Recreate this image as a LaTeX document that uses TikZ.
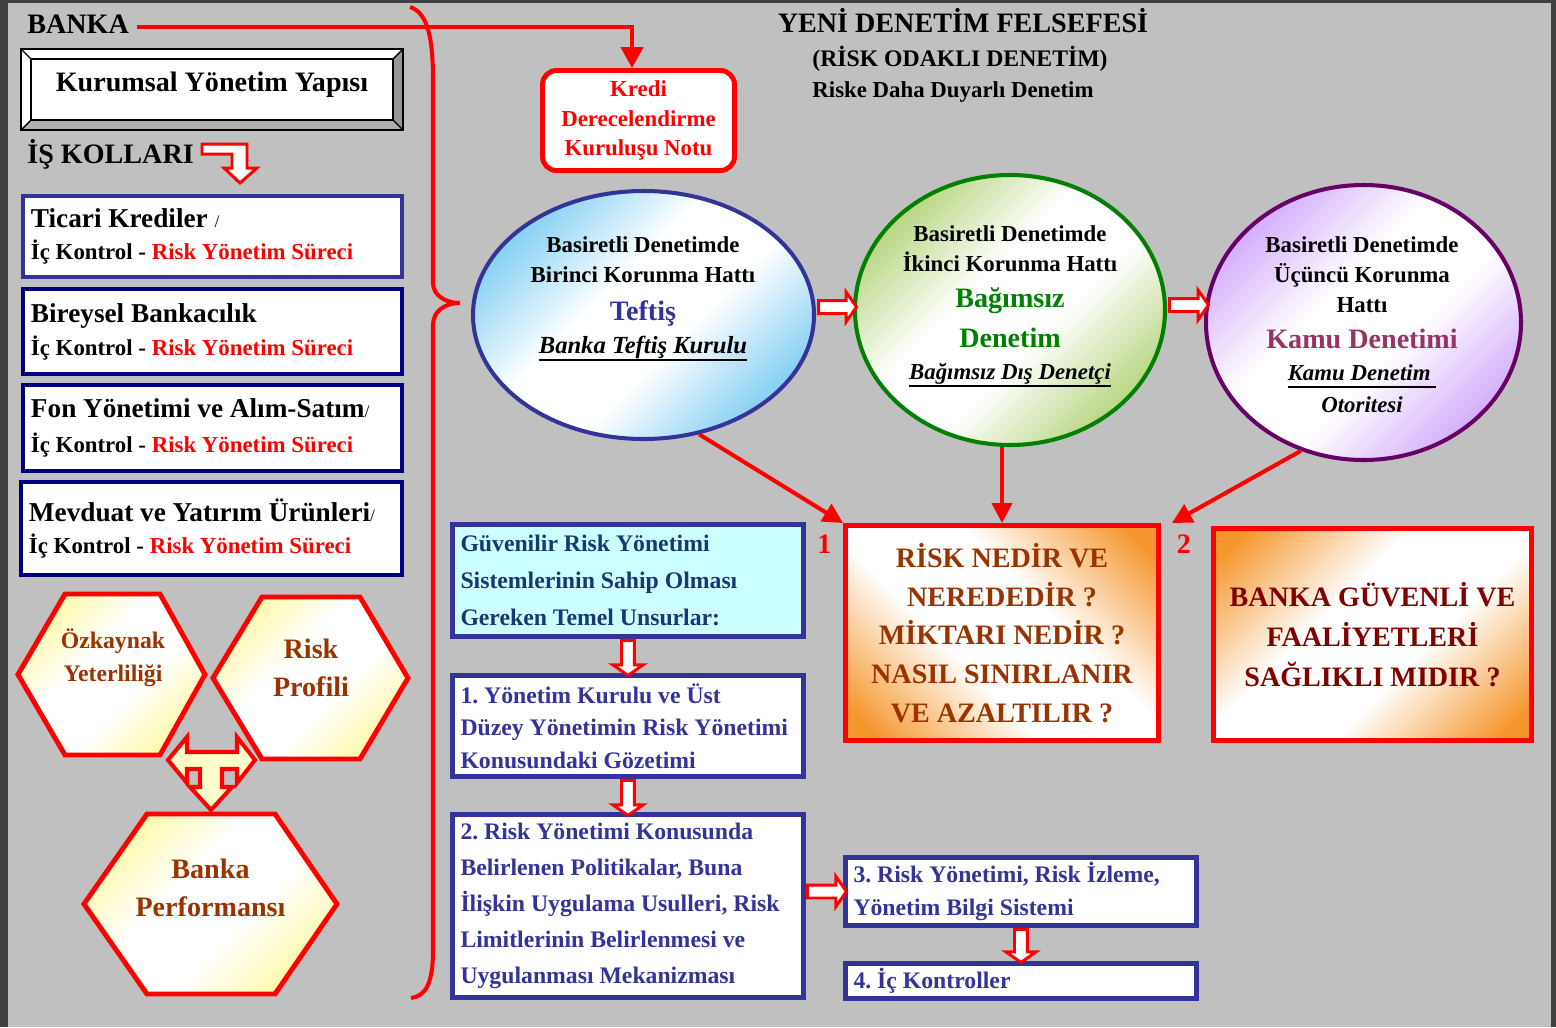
\documentclass[tikz,border=0pt]{standalone}
\usepackage{fontspec}
\setmainfont{Liberation Serif}
\usetikzlibrary{arrows.meta,shapes.geometric,shapes.arrows,calc}

\definecolor{cBg}{RGB}{192,192,192}
\definecolor{cFrame}{RGB}{64,64,64}
\definecolor{boxblue}{RGB}{51,51,153}
\definecolor{navyblue}{RGB}{0,0,128}
\definecolor{hexbrown}{RGB}{153,51,0}
\definecolor{dred}{RGB}{128,0,0}
\definecolor{dgreen}{RGB}{0,128,0}
\definecolor{purp}{RGB}{102,0,102}
\definecolor{kamucol}{RGB}{153,51,102}
\definecolor{sky}{RGB}{115,200,242}
\definecolor{lgreen}{RGB}{172,208,110}
\definecolor{lpurp}{RGB}{205,160,252}
\definecolor{orng}{RGB}{245,150,45}
\definecolor{hexy}{RGB}{255,248,160}
\definecolor{tfill}{RGB}{255,255,204}
\definecolor{cyanbox}{RGB}{204,255,255}
\definecolor{gvtext}{RGB}{25,55,115}
\definecolor{bevR}{RGB}{150,150,150}
\definecolor{bevB}{RGB}{175,175,175}

\pgfdeclareverticalshading{shSky}{100bp}{color(0bp)=(sky); color(22bp)=(sky); color(43bp)=(white); color(57bp)=(white); color(78bp)=(sky); color(100bp)=(sky)}
\pgfdeclareverticalshading{shGreen}{100bp}{color(0bp)=(lgreen); color(22bp)=(lgreen); color(43bp)=(white); color(57bp)=(white); color(78bp)=(lgreen); color(100bp)=(lgreen)}
\pgfdeclareverticalshading{shPurp}{100bp}{color(0bp)=(lpurp); color(22bp)=(lpurp); color(43bp)=(white); color(57bp)=(white); color(78bp)=(lpurp); color(100bp)=(lpurp)}
\pgfdeclareverticalshading{shOrng}{100bp}{color(0bp)=(orng); color(19bp)=(orng); color(41bp)=(white); color(59bp)=(white); color(81bp)=(orng); color(100bp)=(orng)}
\pgfdeclareverticalshading{shHex}{100bp}{color(0bp)=(hexy); color(22bp)=(hexy); color(42bp)=(white); color(58bp)=(white); color(78bp)=(hexy); color(100bp)=(hexy)}

\newcommand{\fsz}[2]{\fontsize{#1}{#2}\selectfont}
\newcommand{\tsp}{\spaceskip=0pt\xspaceskip=0pt\frenchspacing}
\newsavebox\undlbox
\newcommand{\undl}[1]{\sbox\undlbox{#1}\rlap{\rule[-4.7pt]{\wd\undlbox}{1.5pt}}\usebox\undlbox}

\begin{document}
\begin{tikzpicture}[scale=0.2]
	\tikzstyle{every node}+=[inner sep=0pt, font=\bfseries]
	\tikzstyle{redln}=[red, line width=2.3pt]
	\tikzstyle{redarr}=[redln, -{Triangle[length=0.4cm, width=0.4cm]}]
	\tikzstyle{bizbox}=[draw=navyblue, fill=white, line width=2.3pt, minimum width=7.58cm, text width=7.26cm, inner xsep=0.16cm, align=flush left]
	\tikzstyle{bluebox}=[draw=boxblue, fill=white, line width=2.8pt, minimum width=7.02cm, text width=6.7cm, inner xsep=0.16cm, align=flush left, text=boxblue, font=\bfseries\fsz{13.5}{18.5}\tsp]
	\tikzstyle{riskbox}=[draw=red, line width=2.8pt, align=center, shade, shading=shOrng]
	\tikzstyle{hexa}=[draw=red, line width=2.8pt, line join=miter, shade, shading=shHex, shading angle=45]
	\tikzstyle{hexlbl}=[align=center, text=hexbrown]
	\tikzstyle{oval}=[ellipse, line width=2.3pt, shade, shading angle=45]
	\tikzstyle{ovallbl}=[align=center, anchor=north, font=\bfseries\fsz{13}{17}]
	\tikzstyle{hollow}=[single arrow, draw=red, fill=white, line width=1.7pt, inner xsep=0pt, inner ysep=0.1cm, single arrow head extend=0.17cm, single arrow tip angle=110, anchor=tail]
	\tikzstyle{blockarr}=[draw=red, line join=miter]

	\useasboundingbox (0,0) rectangle (155.6,-102.7);
	\fill [cFrame] (0,0) rectangle (155.6,-102.7);
	\fill [cBg] (0.8,-0.25) rectangle (155.1,-102.7);

	\fill [white] (2.1,-4.9) rectangle (40.3,-13.0);
	\fill [bevR] (40.3,-4.9) -- (40.3,-13.0) -- (39.3,-12.0) -- (39.3,-5.9) -- cycle;
	\fill [bevB] (2.1,-13.0) -- (40.3,-13.0) -- (39.3,-12.0) -- (3.1,-12.0) -- cycle;
	\draw [black, line width=1.1pt] (2.1,-4.9) rectangle (40.3,-13.0);
	\draw [black, line width=1.1pt] (3.1,-5.9) rectangle (39.3,-12.0);
	\draw [black, line width=0.8pt] (2.1,-4.9) -- (3.1,-5.9) (40.3,-4.9) -- (39.3,-5.9) (2.1,-13.0) -- (3.1,-12.0) (40.3,-13.0) -- (39.3,-12.0);

	\node [anchor=base west, font=\bfseries\fsz{16}{19}] (banka) at (2.7,-3.3) {BANKA};
	\node [font=\bfseries\fsz{16}{19}] (kurumsal) at (21.2,-8.5) {Kurumsal Yönetim Yapısı};
	\node [anchor=base west, font=\bfseries\fsz{16}{19}] (iskol) at (2.7,-16.3) {İŞ KOLLARI};
	\draw [blockarr, line width=1.7pt, fill=white] (20.2,-14.4) -- (24.7,-14.4) -- (24.7,-16.8) -- (25.7,-16.8) -- (24.0,-18.3) -- (22.4,-16.8) -- (23.2,-16.8) -- (23.2,-15.4) -- (20.2,-15.4) -- cycle;

	\node [bizbox, draw=boxblue, minimum height=1.62cm, font=\bfseries\fsz{13}{18.1}\tsp] (ticari) at (21.25,-23.65) {\fsz{15.5}{18.1}Ticari Krediler {\mdseries\fsz{10}{12}/}\\\fsz{13}{18.1}İç Kontrol - \textcolor{red}{Risk Yönetim Süreci}};
	\node [bizbox, minimum height=1.7cm, font=\bfseries\fsz{13}{18.7}\tsp] (bireysel) at (21.25,-33.15) {\fsz{15.5}{18.7}Bireysel Bankacılık\\\fsz{13}{18.7}İç Kontrol - \textcolor{red}{Risk Yönetim Süreci}};
	\node [bizbox, minimum height=1.72cm, font=\bfseries\fsz{13}{19.8}\tsp] (fon) at (21.25,-42.8) {\fsz{15.5}{19.8}Fon Yönetimi ve Alım-Satım{\mdseries\fsz{10}{12}/}\\\fsz{13}{19.8}İç Kontrol - \textcolor{red}{Risk Yönetim Süreci}};
	\node [bizbox, minimum height=1.86cm, minimum width=7.62cm, text width=7.3cm, font=\bfseries\fsz{13}{18.1}\tsp] (mevduat) at (21.15,-52.85) {\fsz{15.5}{18.1}Mevduat ve Yatırım Ürünleri{\mdseries\fsz{10}{12}/}\\\fsz{13}{18.1}İç Kontrol - \textcolor{red}{Risk Yönetim Süreci}};

	\draw [hexa] (1.8,-67.45) -- (6.5,-59.4) -- (16.0,-59.4) -- (20.5,-67.45) -- (16.0,-75.5) -- (6.5,-75.5) -- cycle;
	\draw [hexa] (21.3,-67.8) -- (26.2,-59.7) -- (36.0,-59.7) -- (40.8,-67.8) -- (36.0,-75.9) -- (26.2,-75.9) -- cycle;
	\draw [hexa] (8.4,-90.4) -- (14.7,-81.4) -- (27.5,-81.4) -- (33.7,-90.4) -- (27.5,-99.4) -- (14.7,-99.4) -- cycle;
	\node [hexlbl, font=\bfseries\fsz{13.5}{18.7}] (ozk) at (11.3,-65.75) {Özkaynak\\Yeterliliği};
	\node [hexlbl, font=\bfseries\fsz{16}{21.5}] (rprof) at (31.1,-66.8) {Risk\\Profili};
	\node [hexlbl, font=\bfseries\fsz{16}{22}] (bperf) at (21.05,-88.8) {Banka\\Performansı};
	\draw [blockarr, fill=tfill, line width=2.3pt] (16.8,-76.0) -- (18.7,-73.7) -- (18.7,-75.2) -- (23.7,-75.2) -- (23.7,-73.7) -- (25.5,-76.0) -- (23.7,-78.3) -- (23.7,-76.9) -- (22.2,-76.9) -- (22.2,-78.7) -- (23.2,-78.7) -- (21.1,-81.0) -- (19.0,-78.7) -- (20.0,-78.7) -- (20.0,-76.9) -- (18.7,-76.9) -- (18.7,-78.3) -- cycle;

	\draw [redln] (41.0,-0.7) .. controls (42.5,-1.2) and (43.3,-3) .. (43.3,-8) -- (43.3,-28.3) .. controls (43.3,-29.5) and (44.5,-30.3) .. (46.0,-30.3) .. controls (44.5,-30.3) and (43.3,-31.1) .. (43.3,-32.5) -- (43.3,-95) .. controls (43.3,-98.5) and (42.5,-99.6) .. (41.1,-99.8);

	\node [anchor=base, font=\bfseries\fsz{16}{19}] (title) at (96.3,-3.2) {YENİ DENETİM FELSEFESİ};
	\node [anchor=base, font=\bfseries\fsz{13.5}{16}] (subtitle) at (96.0,-6.6) {(RİSK ODAKLI DENETİM)};
	\node [anchor=base, font=\bfseries\fsz{13}{16}] (subtitle2) at (95.3,-9.7) {Riske Daha Duyarlı Denetim};

	\node [draw=red, fill=white, line width=2.8pt, rounded corners=0.28cm, minimum width=3.84cm, minimum height=2.0cm, align=center, text=red, font=\bfseries\fsz{13}{16.7}] (kredi) at (63.85,-12.05) {Kredi\\Derecelendirme\\Kuruluşu Notu};
	\draw [redln, -{Triangle[length=0.42cm, width=0.44cm]}] ($(banka.base east)+(0.8,0.6)$) -| ($(kredi.north)+(-0.65,0)$);

	\node [oval, draw=boxblue, minimum width=6.82cm, minimum height=4.96cm, shading=shSky] (tef) at (64.35,-31.5) {};
	\node [ovallbl] (tefT) at (64.3,-23.65) {Basiretli Denetimde\\Birinci Korunma Hattı\\[4.5pt] {\color{boxblue}\fsz{16}{19}Teftiş}\\[1.7pt] {\fsz{14}{17}\itshape\undl{Banka Teftiş Kurulu}}};
	\node [oval, draw=dgreen, minimum width=6.2cm, minimum height=5.4cm, shading=shGreen] (bag) at (101.0,-31.0) {};
	\node [ovallbl] (bagT) at (101.0,-22.55) {Basiretli Denetimde\\İkinci Korunma Hattı\\[3.4pt] {\color{dgreen}\fsz{16}{19}Bağımsız}\\[5.7pt] {\color{dgreen}\fsz{16}{19}Denetim}\\[1.1pt] {\fsz{13}{17}\itshape\undl{Bağımsız Dış Denetçi}}};
	\node [oval, draw=purp, minimum width=6.3cm, minimum height=5.5cm, shading=shPurp] (kamu) at (136.35,-32.25) {};
	\node [ovallbl] (kamuT) at (136.2,-23.65) {Basiretli Denetimde\\Üçüncü Korunma\\Hattı\\[3.4pt] {\color{kamucol}\fsz{16}{19}Kamu Denetimi}\\[1.1pt] {\fsz{13}{17}\itshape\undl{Kamu Denetim }}\\[1.7pt] {\fsz{13}{17}\itshape Otoritesi}};
	\node [hollow, minimum height=0.76cm] (h1) at ($(tef.east)+(0.1,0.8)$) {};
	\node [hollow, minimum height=0.78cm] (h2) at ($(bag.east)+(0.1,0.5)$) {};

	\node [riskbox, minimum width=6.26cm, minimum height=4.3cm, shading angle=-45, text=hexbrown, font=\bfseries\fsz{16}{22.1}] (r1) at (100.2,-63.3) {RİSK NEDİR VE\\NEREDEDİR ?\\MİKTARI NEDİR ?\\NASIL SINIRLANIR\\VE AZALTILIR ?};
	\node [riskbox, minimum width=6.36cm, minimum height=4.24cm, shading angle=45, text=dred, font=\bfseries\fsz{16}{22.7}] (r2) at (137.25,-63.45) {BANKA GÜVENLİ VE\\FAALİYETLERİ\\SAĞLIKLI MIDIR ?};
	\node [text=red, font=\bfseries\fsz{16}{19}] (n1) at (82.45,-54.45) {1};
	\node [text=red, font=\bfseries\fsz{16}{19}] (n2) at (118.4,-54.45) {2};
	\draw [redarr] (tef.-65) -- (r1.north west);
	\draw [redarr] (bag.south -| r1.north) -- (r1.north);
	\draw [redarr] (kamu.-116) -- ($(r1.north east)+(1.1,0)$);

	\node [bluebox, fill=cyanbox, text=gvtext, minimum height=2.24cm, font=\bfseries\fsz{13.5}{21}\tsp] (gv) at (62.8,-58.05) {Güvenilir Risk Yönetimi\\Sistemlerinin Sahip Olması\\Gereken Temel Unsurlar:};
	\node [bluebox, minimum height=2.02cm, font=\bfseries\fsz{13.5}{18.4}\tsp] (yk) at (62.8,-72.6) {1. Yönetim Kurulu ve Üst\\Düzey Yönetimin Risk Yönetimi\\Konusundaki Gözetimi};
	\node [bluebox, minimum height=3.66cm, font=\bfseries\fsz{13.5}{20.5}\tsp] (rk) at (62.8,-90.6) {2. Risk Yönetimi Konusunda\\Belirlenen Politikalar, Buna\\İlişkin Uygulama Usulleri, Risk\\Limitlerinin Belirlenmesi ve\\Uygulanması Mekanizması};
	\node [bluebox, minimum height=1.36cm, font=\bfseries\fsz{13.5}{18.7}\tsp] (b3) at (102.1,-89.15) {3. Risk Yönetimi, Risk İzleme,\\Yönetim Bilgi Sistemi};
	\node [bluebox, minimum height=0.7cm] (b4) at (102.1,-98.1) {4. İç Kontroller};
	\node [hollow, rotate=-90, minimum height=0.7cm] (h3) at (gv.south) {};
	\node [hollow, rotate=-90, minimum height=0.7cm] (h4) at (yk.south) {};
	\node [hollow, minimum height=0.78cm] (h5) at (rk.east |- b3.west) {};
	\node [hollow, rotate=-90, minimum height=0.66cm] (h6) at (b3.south) {};
\end{tikzpicture}
\end{document}
